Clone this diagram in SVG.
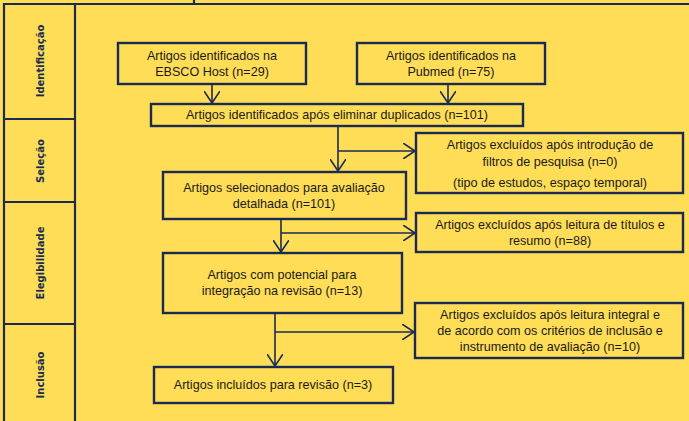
<svg xmlns="http://www.w3.org/2000/svg" width="689" height="421" viewBox="0 0 689 421">
<style>
.bg{fill:#FFDD57}
.frame{fill:none;stroke:#1A2B52;stroke-width:2.2}
.box{fill:#FFDD57;stroke:#1A2B52;stroke-width:2.4}
.t{font-family:"Liberation Sans",Arial,sans-serif;font-size:12.6px;fill:#1a1a1a;text-anchor:middle;dominant-baseline:central}
.lab{font-family:"DejaVu Sans","Noto Sans",sans-serif;font-weight:bold;font-size:10px;fill:#1A2B52;text-anchor:middle;dominant-baseline:central}
.c{fill:none;stroke:#1A2B52;stroke-width:1.6}
</style>
<defs>
<marker id="ah" viewBox="0 0 12 16" refX="12" refY="8" markerWidth="12" markerHeight="16" markerUnits="userSpaceOnUse" orient="auto">
<path d="M0,0 L12,8 L0,16" fill="none" stroke="#1A2B52" stroke-width="1.6"/>
</marker>
</defs>
<rect class="bg" x="0" y="0" width="689" height="421"/>
<g id="frame">
<path class="frame" d="M4,421 V4 H689"/>
<path class="frame" d="M194,0 V4"/>
<path class="frame" d="M75,4 V421"/>
<path class="frame" d="M4,119 H75 M4,202 H75 M4,324 H75"/>
</g>
<g id="stage-labels">
<text class="lab" transform="translate(40,61) rotate(-90)">Identificação</text>
<text class="lab" transform="translate(40,161) rotate(-90)">Seleção</text>
<text class="lab" transform="translate(40,263) rotate(-90)">Elegibilidade</text>
<text class="lab" transform="translate(40,375) rotate(-90)">Inclusão</text>
</g>
<g id="connectors">
<path class="c" d="M212,85 V103" marker-end="url(#ah)"/>
<path class="c" d="M448,85 V103" marker-end="url(#ah)"/>
<path class="c" d="M338,127 V171" marker-end="url(#ah)"/>
<path class="c" d="M338,151 H415" marker-end="url(#ah)"/>
<path class="c" d="M281,220 V252" marker-end="url(#ah)"/>
<path class="c" d="M281,233 H415" marker-end="url(#ah)"/>
<path class="c" d="M275,314 V366" marker-end="url(#ah)"/>
<path class="c" d="M275,332 H414" marker-end="url(#ah)"/>
</g>
<g id="n1">
<rect class="box" x="118" y="43" width="188" height="41"/>
<text class="t" x="212" y="56">Artigos identificados na</text>
<text class="t" x="212" y="72">EBSCO Host (n=29)</text>
</g>
<g id="n2">
<rect class="box" x="357" y="43" width="188" height="41"/>
<text class="t" x="451" y="56">Artigos identificados na</text>
<text class="t" x="451" y="72">Pubmed (n=75)</text>
</g>
<g id="n3">
<rect class="box" x="151" y="104" width="372" height="22"/>
<text class="t" x="337" y="115">Artigos identificados após eliminar duplicados (n=101)</text>
</g>
<g id="n4">
<rect class="box" x="416" y="133" width="267" height="60"/>
<text class="t" x="550" y="145">Artigos excluídos após introdução de</text>
<text class="t" x="550" y="161.5">filtros de pesquisa (n=0)</text>
<text class="t" x="550" y="182.5">(tipo de estudos, espaço temporal)</text>
</g>
<g id="n5">
<rect class="box" x="163" y="172" width="243" height="47"/>
<text class="t" x="284" y="187.5">Artigos selecionados para avaliação</text>
<text class="t" x="284" y="204">detalhada (n=101)</text>
</g>
<g id="n6">
<rect class="box" x="416" y="213" width="267" height="39"/>
<text class="t" x="550" y="225">Artigos excluídos após leitura de títulos e</text>
<text class="t" x="550" y="241">resumo (n=88)</text>
</g>
<g id="n7">
<rect class="box" x="163" y="253" width="239" height="60"/>
<text class="t" x="282" y="275">Artigos com potencial para</text>
<text class="t" x="282" y="291">integração na revisão (n=13)</text>
</g>
<g id="n8">
<rect class="box" x="415" y="303" width="268" height="55"/>
<text class="t" x="550" y="315">Artigos excluídos após leitura integral e</text>
<text class="t" x="550" y="331">de acordo com os critérios de inclusão e</text>
<text class="t" x="550" y="347">instrumento de avaliação (n=10)</text>
</g>
<g id="n9">
<rect class="box" x="154" y="367" width="239" height="36"/>
<text class="t" x="273" y="385">Artigos incluídos para revisão (n=3)</text>
</g>
</svg>
